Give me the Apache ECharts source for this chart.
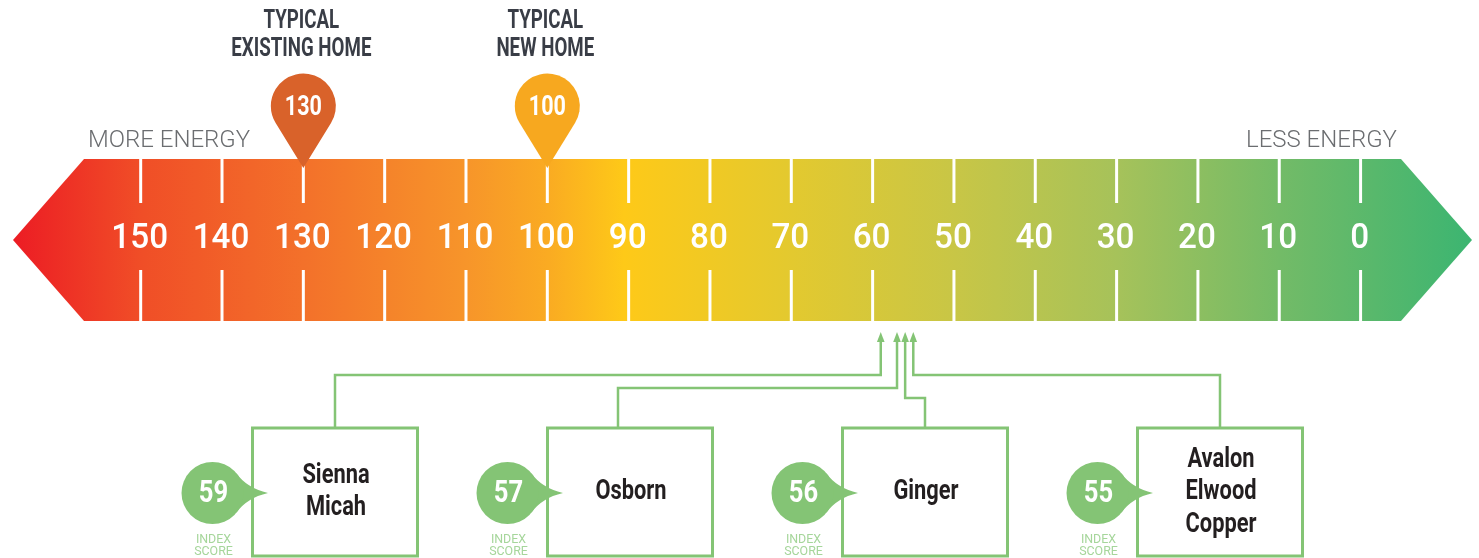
<!DOCTYPE html>
<html><head><meta charset="utf-8">
<script src="https://cdn.jsdelivr.net/npm/echarts@6/dist/echarts.min.js"></script>
<style>html,body{margin:0;padding:0;background:#fff;overflow:hidden}#c{width:1479px;height:558px}</style>
</head><body><div id="c"></div>
<script>
// ---------- data ----------
const scaleStart = 165.7;   // axis value at the left arrow tip
const scaleEnd = -13.7;     // axis value at the right arrow tip
const tickValues = [150, 140, 130, 120, 110, 100, 90, 80, 70, 60, 50, 40, 30, 20, 10, 0];
const tickLabels = ['150', '140', '130', '120', '110', '100', '90', '80', '70', '60', '50', '40', '30', '20', '10', '0'];
const endLabels = ['MORE ENERGY', 'LESS ENERGY'];
const benchmarkValues = [130, 100];
const benchmarkTitles = [['TYPICAL', 'EXISTING HOME'], ['TYPICAL', 'NEW HOME']];
const homeNames = [['Sienna', 'Micah'], ['Osborn'], ['Ginger'], ['Avalon', 'Elwood', 'Copper']];
const homeScores = [59, 57, 56, 55];
const scoreCaption = ['INDEX', 'SCORE'];

// ---------- layout & style ----------
const BAR_TOP = 159, BAR_BOTTOM = 321, BAR_MID = 240, ARROW = 71;
const FONT = 'Roboto, "Noto Sans", sans-serif';
const GREEN = '#84c475';
const pinColors = ['#d9622a', '#f7a81f'];
const barGradient = {
  type: 'linear', x: 0, y: 0, x2: 1, y2: 0,
  colorStops: [
    { offset: 0, color: '#ec1c24' },
    { offset: 0.088, color: '#f04e27' },
    { offset: 0.2, color: '#f3712a' },
    { offset: 0.311, color: '#f7952a' },
    { offset: 0.367, color: '#faab22' },
    { offset: 0.419, color: '#fec918' },
    { offset: 0.534, color: '#e3c92f' },
    { offset: 0.646, color: '#c8c646' },
    { offset: 0.757, color: '#a6c25a' },
    { offset: 0.868, color: '#73bb67' },
    { offset: 1, color: '#3cb571' }
  ]
};
const BOX_LEFT0 = 251, BOX_GAP = 295, BOX_W = 168, BOX_TOP = 428, BOX_BOTTOM = 556;
const ELBOW_Y = [375, 388, 398, 375];
const CONNECT_DX = [0, -12, 0, 0];
const ARROW_TIP_Y = 332, ARROW_BASE_Y = 342;

function xOf(api, v) { return api.coord([v, 0])[0]; }
function label(x, y, text, sx, st) {
  return { type: 'text', x: x, y: y, scaleX: sx, style: Object.assign({ text: text, x: 0, y: 0, align: 'center', verticalAlign: 'middle', fontFamily: FONT }, st) };
}

const chart = echarts.init(document.getElementById('c'), null, { renderer: 'canvas' });

const option = {
  animation: false,
  backgroundColor: '#ffffff',
  grid: { left: 13, right: 7, top: 0, bottom: 0, containLabel: false, outerBoundsMode: 'none' },
  xAxis: { type: 'value', inverse: true, min: scaleEnd, max: scaleStart, show: false },
  yAxis: { type: 'value', min: 0, max: 1, show: false },
  series: [
    { // gradient arrow bar
      type: 'custom', coordinateSystem: 'cartesian2d', silent: true,
      encode: { x: [0, 2], y: 1 },
      data: [[scaleStart, 0, scaleEnd]],
      renderItem: function (params, api) {
        const xl = xOf(api, api.value(0));
        const xr = xOf(api, api.value(2));
        return {
          type: 'group', children: [
            { type: 'polygon', shape: { points: [[xl, BAR_MID], [xl + ARROW, BAR_TOP], [xr - ARROW, BAR_TOP], [xr, BAR_MID], [xr - ARROW, BAR_BOTTOM], [xl + ARROW, BAR_BOTTOM]] }, style: { fill: barGradient } },
            { type: 'text', x: xl + ARROW + 4, y: 141, style: { text: endLabels[0], x: 0, y: 0, align: 'left', verticalAlign: 'middle', fill: '#6b6d70', fontFamily: FONT, fontWeight: 300, fontSize: 24 } },
            { type: 'text', x: xr - ARROW - 4, y: 141, style: { text: endLabels[1], x: 0, y: 0, align: 'right', verticalAlign: 'middle', fill: '#6b6d70', fontFamily: FONT, fontWeight: 300, fontSize: 24 } }
          ]
        };
      }
    },
    { // tick marks & labels
      type: 'custom', coordinateSystem: 'cartesian2d', silent: true,
      encode: { x: 0, y: 1 },
      data: tickValues.map(v => [v, 0]),
      renderItem: function (params, api) {
        const x = xOf(api, api.value(0));
        return {
          type: 'group', children: [
            { type: 'line', shape: { x1: x, y1: BAR_TOP, x2: x, y2: 203 }, style: { stroke: '#ffffff', lineWidth: 3 } },
            { type: 'line', shape: { x1: x, y1: 270, x2: x, y2: BAR_BOTTOM }, style: { stroke: '#ffffff', lineWidth: 3 } },
            label(x - 1, 239, tickLabels[params.dataIndex], 0.95, { fill: '#ffffff', fontWeight: 500, fontSize: 35 })
          ]
        };
      }
    },
    { // benchmark pins
      type: 'custom', coordinateSystem: 'cartesian2d', silent: true,
      encode: { x: 0, y: 1 },
      data: benchmarkValues.map(v => [v, 0]),
      renderItem: function (params, api) {
        const i = params.dataIndex;
        const x = xOf(api, api.value(0));
        const cy = 106, r = 32.5, tipY = 168;
        const d = tipY - cy;
        const s = r / d;
        const ty = cy + r * s;
        const tx = r * Math.sqrt(1 - s * s);
        const path = 'M' + x + ' ' + tipY + ' L' + (x + tx) + ' ' + ty +
          ' A' + r + ' ' + r + ' 0 1 0 ' + (x - tx) + ' ' + ty + ' Z';
        const t = benchmarkTitles[i];
        return {
          type: 'group', children: [
            { type: 'path', shape: { pathData: path }, style: { fill: pinColors[i] } },
            label(x, 108, String(api.value(0)), 0.77, { fill: '#ffffff', fontWeight: 'bold', fontSize: 28 }),
            label(x - 2, 21, t[0], 0.72, { fill: '#393d46', fontWeight: 'bold', fontSize: 26 }),
            label(x - 2, 49, t[1], 0.72, { fill: '#393d46', fontWeight: 'bold', fontSize: 26 })
          ]
        };
      }
    },
    { // homes: connectors, boxes, score badges
      type: 'custom', coordinateSystem: 'cartesian2d', silent: true,
      encode: { x: 0, y: 1 },
      data: homeScores.map(v => [v, 0]),
      renderItem: function (params, api) {
        const i = params.dataIndex;
        const ax = xOf(api, api.value(0));
        const bl = BOX_LEFT0 + i * BOX_GAP;
        const bc = bl + BOX_W / 2;
        const sx = bc + CONNECT_DX[i];
        const ey = ELBOW_Y[i];
        const cx = bl - 38.5, cy = 493, r = 31;
        const kids = [];
        kids.push({ type: 'polyline', shape: { points: [[sx, BOX_TOP], [sx, ey], [ax, ey], [ax, ARROW_BASE_Y - 1]] }, style: { stroke: GREEN, lineWidth: 2.5, fill: null } });
        kids.push({ type: 'polygon', shape: { points: [[ax - 3.8, ARROW_BASE_Y], [ax + 3.8, ARROW_BASE_Y], [ax, ARROW_TIP_Y]] }, style: { fill: GREEN } });
        kids.push({ type: 'rect', shape: { x: bl + 1.5, y: BOX_TOP, width: BOX_W - 3, height: BOX_BOTTOM - BOX_TOP }, style: { fill: '#ffffff', stroke: GREEN, lineWidth: 3 } });
        const names = homeNames[i];
        const lh = 32.5;
        const y0 = 492 - (names.length - 1) * lh / 2;
        names.forEach((n, k) => {
          kids.push(label(bc + 1, y0 + k * lh, n, 0.78, { fill: '#231f20', fontWeight: 'bold', fontSize: 28 }));
        });
        const a = 40 * Math.PI / 180;
        const tipX = bl + 17;
        const badgePtr = 'M' + (cx + r * Math.cos(a)) + ' ' + (cy - r * Math.sin(a)) +
          ' Q' + (cx + r + 3) + ' ' + (cy - 5) + ' ' + tipX + ' ' + cy +
          ' Q' + (cx + r + 3) + ' ' + (cy + 5) + ' ' + (cx + r * Math.cos(a)) + ' ' + (cy + r * Math.sin(a)) + ' Z';
        kids.push({ type: 'path', shape: { pathData: badgePtr }, style: { fill: GREEN } });
        kids.push({ type: 'circle', shape: { cx: cx, cy: cy, r: r }, style: { fill: GREEN } });
        kids.push(label(cx + 1, cy + 1, String(api.value(0)), 0.8, { fill: '#ffffff', fontWeight: 'bold', fontSize: 32 }));
        kids.push(label(cx + 1, 540, scoreCaption[0], 0.92, { fill: '#a6d69b', fontSize: 13.5 }));
        kids.push(label(cx + 1, 551.5, scoreCaption[1], 0.92, { fill: '#a6d69b', fontSize: 13.5 }));
        return { type: 'group', children: kids };
      }
    }
  ]
};
chart.setOption(option);
</script>
</body></html>
